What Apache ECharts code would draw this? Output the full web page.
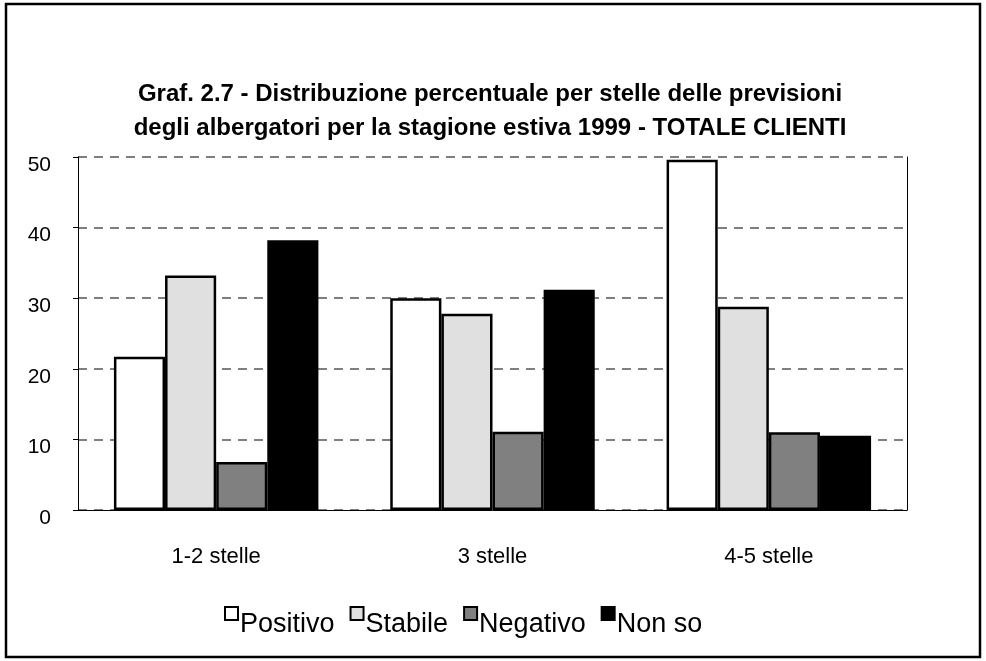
<!DOCTYPE html>
<html>
<head>
<meta charset="utf-8">
<script src="https://cdn.jsdelivr.net/npm/echarts@6/dist/echarts.min.js"></script>
<style>
  html, body { margin: 0; padding: 0; background: #fff; }
  #chart { width: 986px; height: 661px; }
</style>
</head>
<body>
<div id="chart"></div>
<script>
// categorie (stelle) e serie
const categories = ['1-2 stelle', '3 stelle', '4-5 stelle'];
const positivo = [21.7, 30.0, 49.6];
const stabile = [33.2, 27.8, 28.8];
const negativo = [6.8, 11.1, 11.0];
const nonSo = [38.2, 31.2, 10.5];
const yTicks = [0, 10, 20, 30, 40, 50];

const FONT = '"Liberation Sans", Arial, sans-serif';
// quadratino della legenda allineato in alto rispetto al testo
const LEGEND_ICON = 'path://M0,0H13V13H0Z M0,35H0.001';

function barSeries(name, data, color) {
    return {
        name: name,
        type: 'bar',
        data: data,
        barGap: '0%',
        barCategoryGap: '26%',
        itemStyle: { color: color, borderColor: '#000', borderWidth: 2.5 },
        emphasis: { disabled: true }
    };
}

const chart = echarts.init(document.getElementById('chart'));

chart.setOption({
    animation: false,
    backgroundColor: '#fff',
    textStyle: { fontFamily: FONT },
    title: {
        text: 'Graf. 2.7 - Distribuzione percentuale per stelle delle previsioni\ndegli albergatori per la stagione estiva 1999 - TOTALE CLIENTI',
        left: 485,
        textAlign: 'center',
        top: 72,
        textStyle: { fontFamily: FONT, fontSize: 24, fontWeight: 'bold', color: '#000', lineHeight: 34 }
    },
    legend: {
        left: 219,
        top: 601,
        icon: LEGEND_ICON,
        itemWidth: 13,
        itemHeight: 35,
        itemGap: 15,
        selectedMode: false,
        itemStyle: { borderColor: '#000', borderWidth: 2 },
        textStyle: { fontFamily: FONT, fontSize: 27, color: '#000', padding: [0, 0, 0, -3] },
        data: ['Positivo', 'Stabile', 'Negativo', 'Non so']
    },
    grid: { left: 78, right: 79, top: 157, bottom: 151 },
    xAxis: {
        type: 'category',
        data: categories,
        axisLine: { show: true, lineStyle: { color: '#000', width: 1 } },
        axisTick: { show: false },
        axisLabel: { color: '#000', fontSize: 22, margin: 36, fontFamily: FONT }
    },
    yAxis: [{
        type: 'value',
        min: yTicks[0],
        max: yTicks[yTicks.length - 1],
        interval: 10,
        axisLine: { show: true, lineStyle: { color: '#000', width: 1 } },
        axisTick: { show: true, length: 5, lineStyle: { color: '#000' } },
        axisLabel: { color: '#000', fontSize: 21, margin: 27, fontFamily: FONT, verticalAlign: 'top', lineHeight: 16 },
        splitLine: { show: true, lineStyle: { color: '#555', width: 1.5, type: [9, 7] } }
    }, {
        type: 'value',
        position: 'right',
        min: 0,
        max: 50,
        interval: 10,
        axisLine: { show: true, lineStyle: { color: '#000', width: 1 } },
        axisTick: { show: false },
        axisLabel: { show: false },
        splitLine: { show: false }
    }],
    series: [
        barSeries('Positivo', positivo, '#ffffff'),
        barSeries('Stabile', stabile, '#e0e0e0'),
        barSeries('Negativo', negativo, '#808080'),
        barSeries('Non so', nonSo, '#000000')
    ],
    graphic: [{
        type: 'rect',
        shape: { x: 6, y: 4, width: 974, height: 653 },
        style: { fill: null, stroke: '#000', lineWidth: 2.5 },
        silent: true
    }]
});
</script>
</body>
</html>
